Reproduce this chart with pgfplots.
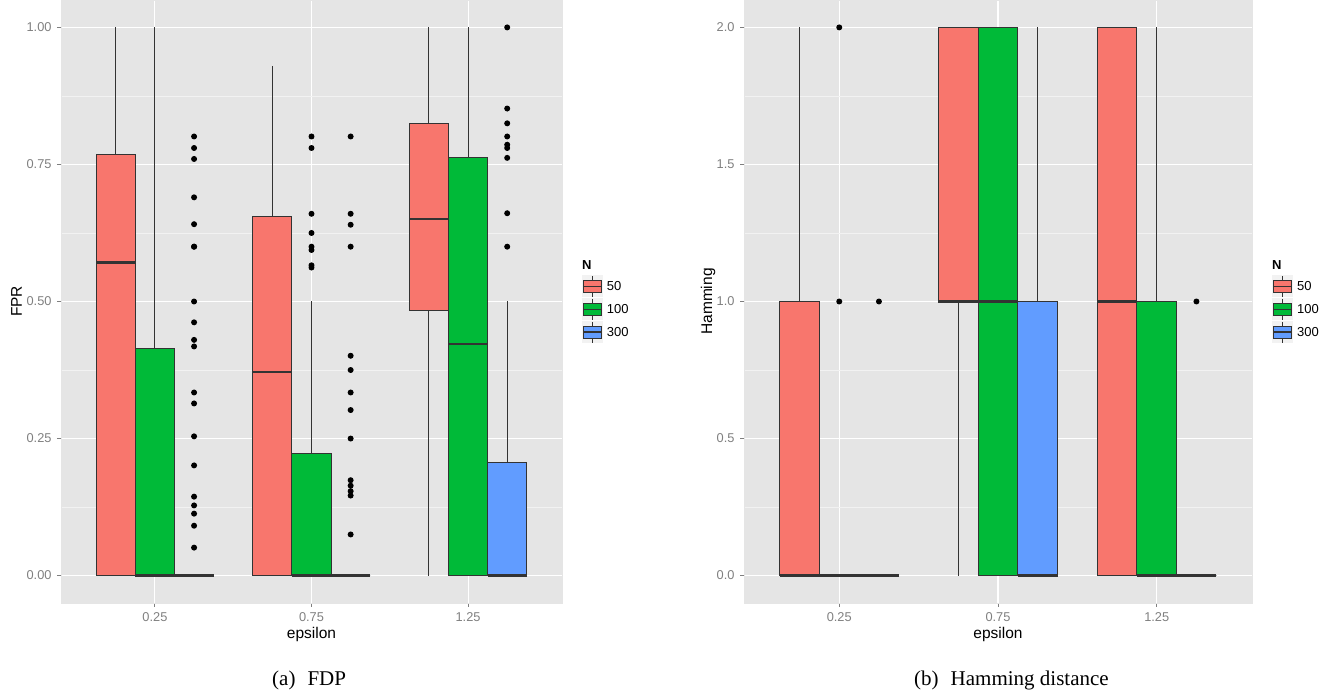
\documentclass[border=0pt]{standalone}
\usepackage{pgfplots}
\pgfplotsset{compat=1.18}
\usepgfplotslibrary{statistics}
\usepackage{fontspec}
\setmainfont{Liberation Sans}
\newfontfamily\capfont{Liberation Serif}
\definecolor{c50}{HTML}{F8766D}
\definecolor{c100}{HTML}{00BA38}
\definecolor{c300}{HTML}{619CFF}
\definecolor{panel}{HTML}{E5E5E5}
\definecolor{minorg}{HTML}{F2F2F2}
\definecolor{tickc}{HTML}{7F7F7F}
\definecolor{boxline}{HTML}{333333}
\definecolor{keybg}{HTML}{F2F2F2}
\pgfplotsset{
  gg/.style={
    scale only axis, anchor=south west, height=603bp,
    xmin=0.4, xmax=3.6,
    xtick={1,2,3}, xticklabels={0.25,0.75,1.25},
    axis background/.style={fill=panel},
    axis line style={draw=panel, line width=0.05bp},
    xmajorgrids, ymajorgrids, yminorgrids,
    major grid style={draw=white, line width=1.1bp},
    minor grid style={draw=minorg, line width=0.6bp},
    tick align=outside,
    major tick length=4bp, minor tick length=0bp,
    every tick/.append style={draw=tickc, line width=1bp},
    major tick style={draw=tickc, line width=1bp},
    xtick pos=left, ytick pos=left,
    ticklabel style={font=\fontsize{12.8bp}{14bp}\selectfont, text=tickc},
    xticklabel style={anchor=base, yshift=-14.7bp},
    yticklabel style={anchor=east, inner sep=0pt, xshift=-5.3bp},
    xlabel={epsilon},
    every axis x label/.style={at={(axis description cs:0.5,0)}, anchor=base, yshift=-36bp, font=\fontsize{15.5bp}{18bp}\selectfont},
    /pgf/number format/assume math mode=true,
    clip=false,
  },
  bx/.style={
    boxplot/draw direction=y,
    boxplot/box extend=0.25, boxplot/whisker extend=0,
    draw=boxline, line width=1.1bp,
    mark=*, mark size=2.4bp, mark options={draw=black, fill=black},
    boxplot/every median/.style={line width=2.2bp},
  },
}
\newcommand{\legkey}[3]{% x, y (image coords), colour
  \fill[keybg] (#1bp-10.5bp,693bp-#2bp-11bp) rectangle (#1bp+10.5bp,693bp-#2bp+11bp);
  \draw[boxline, line width=1bp] (#1bp,693bp-#2bp-10.5bp) -- (#1bp,693bp-#2bp+10.5bp);
  \draw[boxline, line width=1bp, fill=#3] (#1bp-9bp,693bp-#2bp-6bp) rectangle (#1bp+9bp,693bp-#2bp+6bp);
  \draw[boxline, line width=1.6bp] (#1bp-9bp,693bp-#2bp) -- (#1bp+9bp,693bp-#2bp);
}
\begin{document}
\begin{tikzpicture}
\useasboundingbox (0,0) rectangle (1336bp,693bp);
% ---------------- Left panel: FPR ----------------
\begin{axis}[gg, at={(61bp,90bp)}, width=501bp,
  ymin=-0.05, ymax=1.05,
  ytick={0,0.25,0.5,0.75,1}, yticklabels={0.00,0.25,0.50,0.75,1.00},
  minor ytick={0.125,0.375,0.625,0.875},
  ylabel={FPR},
  every axis y label/.style={at={(axis description cs:0,0.5)}, xshift=-39bp, rotate=90, anchor=base, font=\fontsize{15.5bp}{18bp}\selectfont},
]
% epsilon = 0.25
\addplot[bx, fill=c50, boxplot prepared={draw position=0.75, lower whisker=0, lower quartile=0, median=0.571, upper quartile=0.768, upper whisker=1}] coordinates {};
\addplot[bx, fill=c100, boxplot prepared={draw position=1, lower whisker=0, lower quartile=0, median=0, upper quartile=0.415, upper whisker=1}] coordinates {};
\addplot[bx, fill=c300, boxplot prepared={draw position=1.25, lower whisker=0, lower quartile=0, median=0, upper quartile=0, upper whisker=0}]
  table[row sep=\\, y index=0] {v\\ 0.801\\ 0.780\\ 0.760\\ 0.690\\ 0.641\\ 0.600\\ 0.600\\ 0.500\\ 0.462\\ 0.430\\ 0.418\\ 0.334\\ 0.314\\ 0.254\\ 0.201\\ 0.144\\ 0.128\\ 0.113\\ 0.091\\ 0.051\\};
% epsilon = 0.75
\addplot[bx, fill=c50, boxplot prepared={draw position=1.75, lower whisker=0, lower quartile=0, median=0.371, upper quartile=0.655, upper whisker=0.93}] coordinates {};
\addplot[bx, fill=c100, boxplot prepared={draw position=2, lower whisker=0, lower quartile=0, median=0, upper quartile=0.223, upper whisker=0.5}]
  table[row sep=\\, y index=0] {v\\ 0.801\\ 0.780\\ 0.660\\ 0.625\\ 0.600\\ 0.594\\ 0.566\\ 0.562\\};
\addplot[bx, fill=c300, boxplot prepared={draw position=2.25, lower whisker=0, lower quartile=0, median=0, upper quartile=0, upper whisker=0}]
  table[row sep=\\, y index=0] {v\\ 0.801\\ 0.660\\ 0.640\\ 0.600\\ 0.401\\ 0.375\\ 0.334\\ 0.302\\ 0.250\\ 0.174\\ 0.164\\ 0.154\\ 0.146\\ 0.075\\};
% epsilon = 1.25
\addplot[bx, fill=c50, boxplot prepared={draw position=2.75, lower whisker=0, lower quartile=0.483, median=0.650, upper quartile=0.825, upper whisker=1}] coordinates {};
\addplot[bx, fill=c100, boxplot prepared={draw position=3, lower whisker=0, lower quartile=0, median=0.423, upper quartile=0.762, upper whisker=1}] coordinates {};
\addplot[bx, fill=c300, boxplot prepared={draw position=3.25, lower whisker=0, lower quartile=0, median=0, upper quartile=0.206, upper whisker=0.5}]
  table[row sep=\\, y index=0] {v\\ 1.000\\ 0.852\\ 0.825\\ 0.801\\ 0.786\\ 0.780\\ 0.762\\ 0.661\\ 0.600\\};
\end{axis}
% ---------------- Right panel: Hamming ----------------
\begin{axis}[gg, at={(744bp,90bp)}, width=508bp,
  ymin=-0.1, ymax=2.1,
  ytick={0,0.5,1,1.5,2}, yticklabels={0.0,0.5,1.0,1.5,2.0},
  minor ytick={0.25,0.75,1.25,1.75},
  ylabel={Hamming},
  every axis y label/.style={at={(axis description cs:0,0.5)}, xshift=-32bp, rotate=90, anchor=base, font=\fontsize{15.5bp}{18bp}\selectfont},
]
% epsilon = 0.25
\addplot[bx, fill=c50, boxplot prepared={draw position=0.75, lower whisker=0, lower quartile=0, median=0, upper quartile=1, upper whisker=2}] coordinates {};
\addplot[bx, fill=c100, boxplot prepared={draw position=1, lower whisker=0, lower quartile=0, median=0, upper quartile=0, upper whisker=0}]
  table[row sep=\\, y index=0] {v\\ 1\\ 2\\};
\addplot[bx, fill=c300, boxplot prepared={draw position=1.25, lower whisker=0, lower quartile=0, median=0, upper quartile=0, upper whisker=0}]
  table[row sep=\\, y index=0] {v\\ 1\\};
% epsilon = 0.75
\addplot[bx, fill=c50, boxplot prepared={draw position=1.75, lower whisker=0, lower quartile=1, median=1, upper quartile=2, upper whisker=2}] coordinates {};
\addplot[bx, fill=c100, boxplot prepared={draw position=2, lower whisker=0, lower quartile=0, median=1, upper quartile=2, upper whisker=2}] coordinates {};
\addplot[bx, fill=c300, boxplot prepared={draw position=2.25, lower whisker=0, lower quartile=0, median=0, upper quartile=1, upper whisker=2}] coordinates {};
% epsilon = 1.25
\addplot[bx, fill=c50, boxplot prepared={draw position=2.75, lower whisker=0, lower quartile=0, median=1, upper quartile=2, upper whisker=2}] coordinates {};
\addplot[bx, fill=c100, boxplot prepared={draw position=3, lower whisker=0, lower quartile=0, median=0, upper quartile=1, upper whisker=2}] coordinates {};
\addplot[bx, fill=c300, boxplot prepared={draw position=3.25, lower whisker=0, lower quartile=0, median=0, upper quartile=0, upper whisker=0}]
  table[row sep=\\, y index=0] {v\\ 1\\};
\end{axis}
% ---------------- Legends ----------------
\node[anchor=west, inner sep=0pt, font=\fontsize{13bp}{15bp}\selectfont\bfseries] at (582bp,693bp-265bp) {N};
\legkey{592.3}{286.5}{c50}
\legkey{592.3}{309.5}{c100}
\legkey{592.3}{332.3}{c300}
\node[anchor=west, inner sep=0pt, font=\fontsize{13bp}{15bp}\selectfont] at (606.7bp,693bp-286.5bp) {50};
\node[anchor=west, inner sep=0pt, font=\fontsize{13bp}{15bp}\selectfont] at (606.7bp,693bp-309.5bp) {100};
\node[anchor=west, inner sep=0pt, font=\fontsize{13bp}{15bp}\selectfont] at (606.7bp,693bp-332.3bp) {300};
\node[anchor=west, inner sep=0pt, font=\fontsize{13bp}{15bp}\selectfont\bfseries] at (1272bp,693bp-265bp) {N};
\legkey{1282.7}{286.5}{c50}
\legkey{1282.7}{309.5}{c100}
\legkey{1282.7}{332.3}{c300}
\node[anchor=west, inner sep=0pt, font=\fontsize{13bp}{15bp}\selectfont] at (1297bp,693bp-286.5bp) {50};
\node[anchor=west, inner sep=0pt, font=\fontsize{13bp}{15bp}\selectfont] at (1297bp,693bp-309.5bp) {100};
\node[anchor=west, inner sep=0pt, font=\fontsize{13bp}{15bp}\selectfont] at (1297bp,693bp-332.3bp) {300};
% ---------------- Captions ----------------
\node[anchor=base west, inner sep=0pt, font=\fontsize{21bp}{24bp}\capfont] at (272bp,8bp) {(a)\hspace{12bp}FDP};
\node[anchor=base west, inner sep=0pt, font=\fontsize{21bp}{24bp}\capfont] at (914bp,8bp) {(b)\hspace{12bp}Hamming distance};
\end{tikzpicture}
\end{document}
